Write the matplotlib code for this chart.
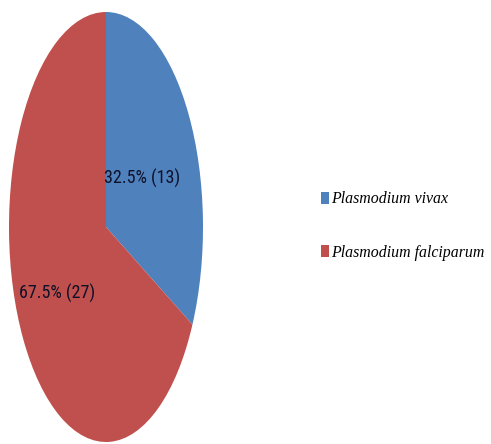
import numpy as np
import matplotlib
matplotlib.use("Agg")
import matplotlib.pyplot as plt

species = ["Plasmodium vivax", "Plasmodium falciparum"]
counts = [13, 27]
percents = [32.5, 67.5]
colors = ["#4F81BD", "#C0504D"]

fig = plt.figure(figsize=(4.91, 4.44), dpi=100)
ax = fig.add_axes([9/491, 2/444, 194/491, 430/444])
wedges, _ = ax.pie(counts, colors=colors, startangle=90, counterclock=False,
                   wedgeprops=dict(linewidth=0), radius=1)
ax.set_aspect('auto')
ax.set_xlim(-1, 1)
ax.set_ylim(-1, 1)

dists = [0.43, 0.59]
for w, c, p, d in zip(wedges, counts, percents, dists):
    ang = np.deg2rad((w.theta1 + w.theta2) / 2)
    ax.text(d * np.cos(ang), d * np.sin(ang), f"{p}% ({c})",
            ha='center', va='center', fontsize=13, color='#101028',
            family=['Roboto Condensed', 'TeX Gyre Heros Cn', 'DejaVu Sans'])

fig.legend(wedges, species, loc='center left', bbox_to_anchor=(307/491, 1 - 226/444),
           frameon=False, handlelength=0.5, handleheight=0.75, handletextpad=0.15,
           labelspacing=2.35,
           prop=dict(family=['Liberation Serif', 'Tinos', 'Noto Serif', 'DejaVu Serif'],
                     style='italic', size=11.4))

fig.savefig("out.png", dpi=100)
